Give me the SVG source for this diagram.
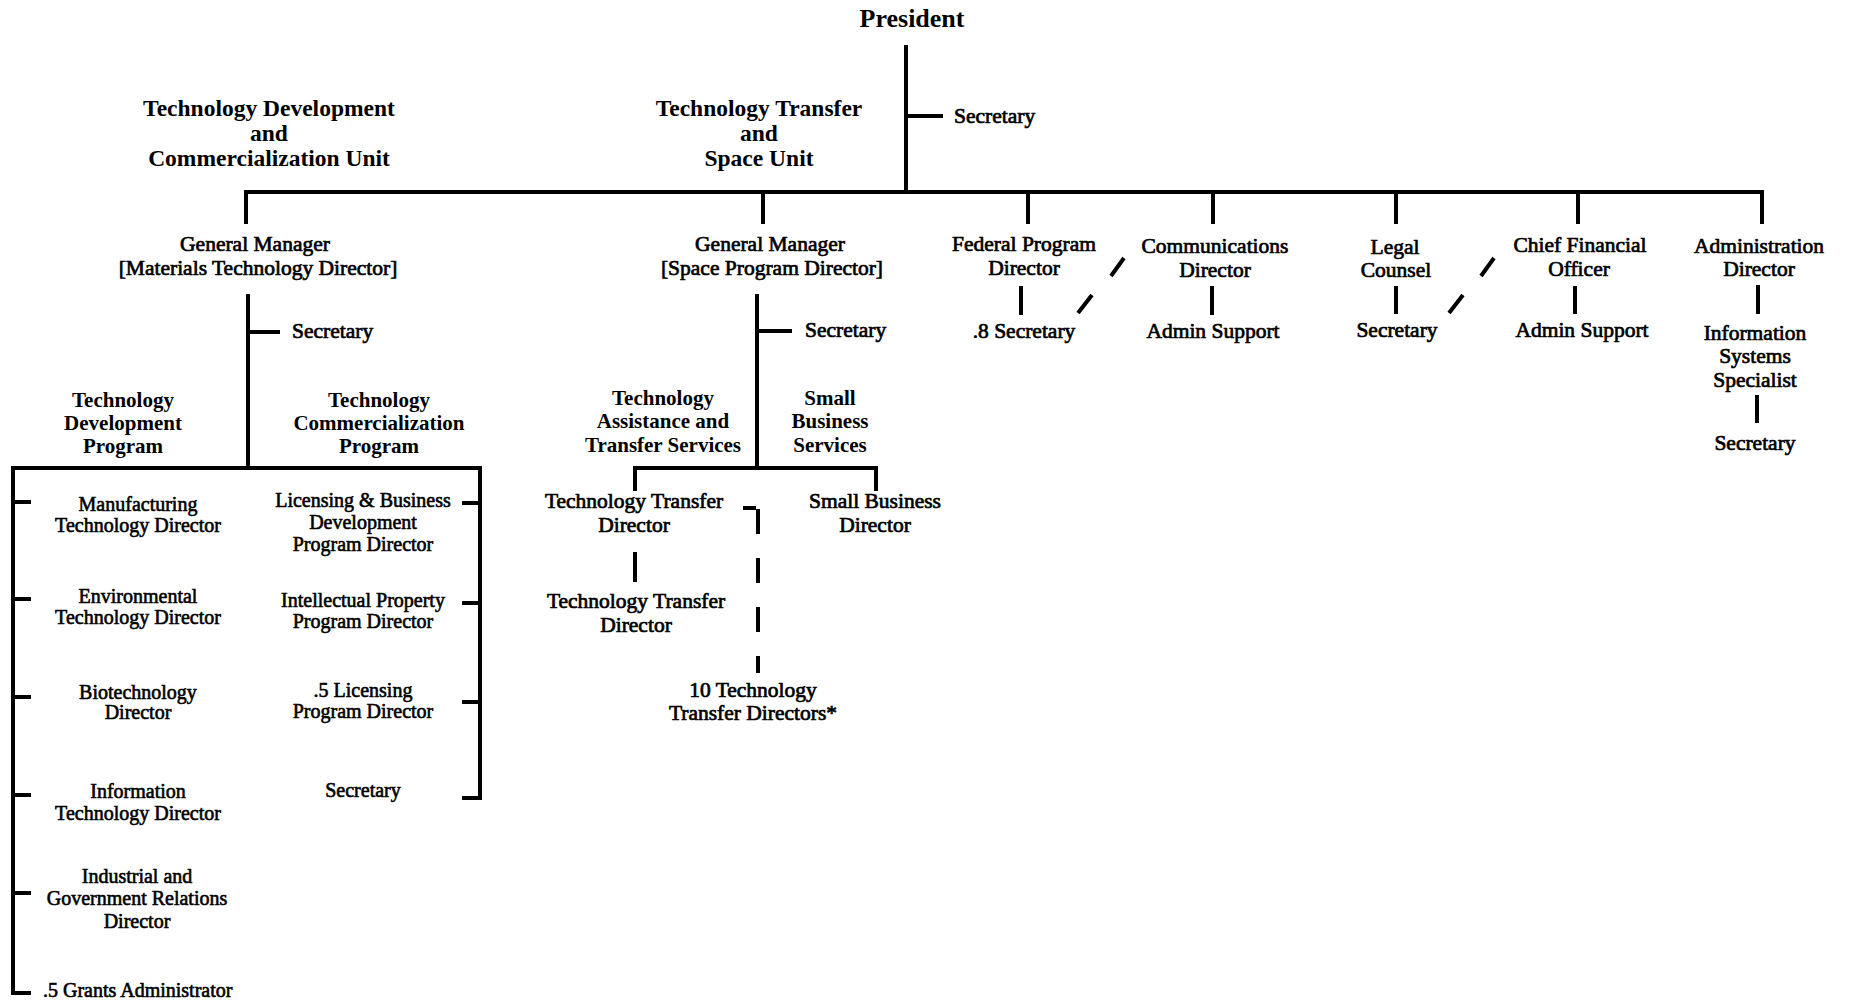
<svg xmlns="http://www.w3.org/2000/svg" width="1849" height="1002" viewBox="0 0 1849 1002">
<style>
text{font-family:"Liberation Serif","Times New Roman",serif;fill:#000;text-anchor:middle}
.p{font-size:26px;font-weight:bold}
.u{font-size:23.5px;font-weight:bold}
.g{font-size:21px;font-weight:bold}
.t{font-size:21.5px;stroke:#000;stroke-width:0.7}
.s{font-size:20px;stroke:#000;stroke-width:0.6}
.l{text-anchor:start}
.ln{stroke:#000;stroke-width:4;fill:none}
.dash{stroke:#000;stroke-width:4;fill:none;stroke-dasharray:25 24}
</style>
<rect width="1849" height="1002" fill="#fff"/>
<g id="connectors">
<path class="ln" d="M906 45V192M906 116H943"/>
<path class="ln" d="M246 224V192H1762V224M763 192V224M1028 192V224M1213 192V224M1396 192V224M1578 192V224"/>
<path class="ln" d="M248 294V468M248 332H280"/>
<path class="ln" d="M31 993H13V468H480V798H462M13 502H31M13 599H31M13 697H31M13 795H31M13 893H31M462 503H480M462 603H480M462 702H480"/>
<path class="ln" d="M757 294V468M757 331H792"/>
<path class="ln" d="M635 491V468H876V491M635 552V582"/>
<path class="ln" d="M743 508H756"/>
<path class="dash" d="M758 509V673"/>
<path class="ln" d="M1021 286V315M1212 286V315M1396 286V314M1575 286V314M1758 285V314M1757 395V423"/>
<path class="ln" d="M1111 276L1124 258M1078 313L1092 295M1481 276L1494 258M1449 313L1463 295"/>
</g>
<g id="president"><text class="p" x="912" y="27">President</text></g>
<g id="president-secretary"><text class="t l" x="954" y="123">Secretary</text></g>
<g id="tdc-unit"><text class="u" x="269" y="116">Technology Development</text><text class="u" x="269" y="141">and</text><text class="u" x="269" y="166">Commercialization Unit</text></g>
<g id="tts-unit"><text class="u" x="759" y="116">Technology Transfer</text><text class="u" x="759" y="141">and</text><text class="u" x="759" y="166">Space Unit</text></g>
<g id="gm-materials"><text class="t" x="255" y="251">General Manager</text><text class="t" x="258" y="275">[Materials Technology Director]</text></g>
<g id="gm-space"><text class="t" x="770" y="251">General Manager</text><text class="t" x="772" y="275">[Space Program Director]</text></g>
<g id="federal"><text class="t" x="1024" y="251">Federal Program</text><text class="t" x="1024" y="275">Director</text></g>
<g id="communications"><text class="t" x="1215" y="253">Communications</text><text class="t" x="1215" y="277">Director</text></g>
<g id="legal"><text class="t" x="1395" y="254">Legal</text><text class="t" x="1396" y="277">Counsel</text></g>
<g id="cfo"><text class="t" x="1580" y="252">Chief Financial</text><text class="t" x="1579" y="276">Officer</text></g>
<g id="admin"><text class="t" x="1759" y="253">Administration</text><text class="t" x="1759" y="276">Director</text></g>
<g id="federal-secretary"><text class="t" x="1024" y="338">.8 Secretary</text></g>
<g id="comm-support"><text class="t" x="1213" y="338">Admin Support</text></g>
<g id="legal-secretary"><text class="t" x="1397" y="337">Secretary</text></g>
<g id="cfo-support"><text class="t" x="1582" y="337">Admin Support</text></g>
<g id="info-systems"><text class="t" x="1755" y="340">Information</text><text class="t" x="1755" y="363">Systems</text><text class="t" x="1755" y="387">Specialist</text></g>
<g id="admin-secretary"><text class="t" x="1755" y="450">Secretary</text></g>
<g id="gm-materials-secretary"><text class="t l" x="292" y="338">Secretary</text></g>
<g id="tdp"><text class="g" x="123" y="407">Technology</text><text class="g" x="123" y="430">Development</text><text class="g" x="123" y="453">Program</text></g>
<g id="tcp"><text class="g" x="379" y="407">Technology</text><text class="g" x="379" y="430">Commercialization</text><text class="g" x="379" y="453">Program</text></g>
<g id="manufacturing"><text class="s" x="138" y="511">Manufacturing</text><text class="s" x="138" y="532">Technology Director</text></g>
<g id="environmental"><text class="s" x="138" y="603">Environmental</text><text class="s" x="138" y="624">Technology Director</text></g>
<g id="biotech"><text class="s" x="138" y="699">Biotechnology</text><text class="s" x="138" y="719">Director</text></g>
<g id="infotech"><text class="s" x="138" y="798">Information</text><text class="s" x="138" y="820">Technology Director</text></g>
<g id="industrial"><text class="s" x="137" y="883">Industrial and</text><text class="s" x="137" y="905">Government Relations</text><text class="s" x="137" y="928">Director</text></g>
<g id="grants"><text class="s l" x="43" y="997">.5 Grants Administrator</text></g>
<g id="licensing-bd"><text class="s" x="363" y="507">Licensing &amp; Business</text><text class="s" x="363" y="529">Development</text><text class="s" x="363" y="551">Program Director</text></g>
<g id="ip"><text class="s" x="363" y="607">Intellectual Property</text><text class="s" x="363" y="628">Program Director</text></g>
<g id="licensing"><text class="s" x="363" y="697">.5 Licensing</text><text class="s" x="363" y="718">Program Director</text></g>
<g id="tcp-secretary"><text class="s" x="363" y="797">Secretary</text></g>
<g id="gm-space-secretary"><text class="t l" x="805" y="337">Secretary</text></g>
<g id="tats"><text class="g" x="663" y="405">Technology</text><text class="g" x="663" y="428">Assistance and</text><text class="g" x="663" y="452">Transfer Services</text></g>
<g id="sbs"><text class="g" x="830" y="405">Small</text><text class="g" x="830" y="428">Business</text><text class="g" x="830" y="452">Services</text></g>
<g id="ttd1"><text class="t" x="634" y="508">Technology Transfer</text><text class="t" x="634" y="532">Director</text></g>
<g id="sbd"><text class="t" x="875" y="508">Small Business</text><text class="t" x="875" y="532">Director</text></g>
<g id="ttd2"><text class="t" x="636" y="608">Technology Transfer</text><text class="t" x="636" y="632">Director</text></g>
<g id="ttd10"><text class="t" x="753" y="697">10 Technology</text><text class="t" x="753" y="720">Transfer Directors*</text></g>
</svg>
